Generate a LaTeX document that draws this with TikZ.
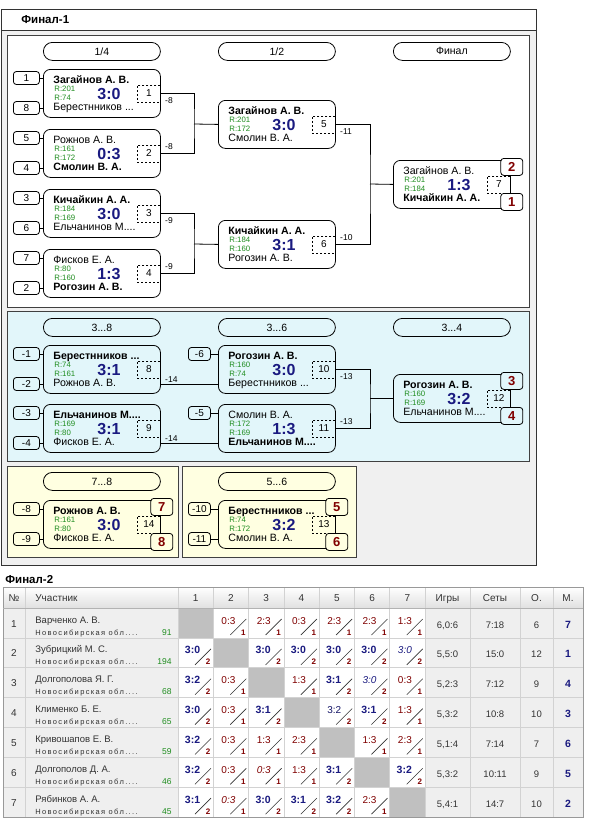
\documentclass[tikz,border=0pt]{standalone}
\usepackage{fontspec}
\setmainfont{Liberation Sans}
\newfontfamily\regf[LetterSpace=18]{Liberation Sans}
\usetikzlibrary{calc}
\definecolor{navy}{HTML}{1A1A80}
\definecolor{dred}{HTML}{800000}
\definecolor{rgreen}{HTML}{1E8C1E}
\definecolor{cyanp}{HTML}{E2F6FA}
\definecolor{yelp}{HTML}{FFFFE1}
\definecolor{framebg}{HTML}{F0F0F0}
\definecolor{gridc}{HTML}{D2D2D2}
\definecolor{diagc}{HTML}{C0C0C0}
\definecolor{cellbg}{HTML}{EFEFEF}
\definecolor{txtc}{HTML}{333333}
\tikzset{
  panel/.style={draw=black!75, anchor=north west, inner sep=0pt},
  mbox/.style={draw, rounded corners=7pt, minimum width=117pt, minimum height=48pt, inner sep=0pt, anchor=north west},
  pill/.style={draw, rounded corners=9pt, minimum width=117pt, minimum height=18pt, inner sep=0pt, anchor=north west, font=\fontsize{10.5}{12}\selectfont},
  seedb/.style={draw, rounded corners=3pt, minimum width=26pt, minimum height=13pt, inner sep=0pt, anchor=west, font=\fontsize{10}{12}\selectfont},
  seedc/.style={seedb, minimum width=22pt},
  nmtxt/.style={anchor=base west, inner sep=0pt, font=\fontsize{10.6}{12}\selectfont},
  rtxt/.style={anchor=base west, inner sep=0pt, font=\fontsize{7.8}{9}\selectfont, text=rgreen},
  sctxt/.style={anchor=base, inner sep=0pt, font=\bfseries\fontsize{16}{18}\selectfont, text=navy},
  nobox/.style={draw, dash pattern=on 2pt off 2pt, minimum width=23pt, minimum height=17pt, inner sep=0pt, anchor=east, font=\fontsize{10}{12}\selectfont},
  plbox/.style={draw, rounded corners=3pt, minimum width=22pt, minimum height=17pt, inner sep=0pt, font=\bfseries\fontsize{13}{15}\selectfont, text=dred},
  lbl/.style={inner sep=0pt, font=\fontsize{8.5}{10}\selectfont},
  sw/.style={anchor=base east, inner sep=0pt, font=\bfseries\fontsize{10.5}{12}\selectfont, text=navy},
  sl/.style={anchor=base east, inner sep=0pt, font=\fontsize{10}{12}\selectfont, text=dred},
  swi/.style={anchor=base east, inner sep=0pt, font=\itshape\fontsize{10}{12}\selectfont, text=navy},
  sli/.style={anchor=base east, inner sep=0pt, font=\itshape\fontsize{10}{12}\selectfont, text=dred},
  swn/.style={anchor=base east, inner sep=0pt, font=\fontsize{10}{12}\selectfont, text=navy!80!black},
  subn/.style={anchor=base, inner sep=0pt, font=\bfseries\fontsize{8}{9}\selectfont, text=dred},
  slash/.style={line width=0.6pt, black!80},
  hd/.style={anchor=base, inner sep=0pt, font=\fontsize{10}{12}\selectfont, text=txtc},
}
\newcommand\MB[9]{%
  \node[mbox] (#1) at (#2,#3) {};
  \node[nmtxt] (#1-a) at ($(#1.north west)+(10,14)$) {#4};
  \node[rtxt] (#1-r) at ($(#1.north west)+(11,22.5)$) {R:#5};
  \node[rtxt] (#1-s) at ($(#1.north west)+(11,31.5)$) {R:#6};
  \node[nmtxt] (#1-b) at ($(#1.north west)+(10,41.5)$) {#7};
  \node[sctxt] (#1-c) at ($(#1.north west)+(66,30)$) {#8};
  \node[nobox] (#1-d) at (#1.east) {#9};
}
\newcommand\SC[5]{%
  \pgfmathsetmacro\cxx{178+35.29*(#2-1)}%
  \pgfmathsetmacro\ryy{608+29.86*(#1-1)}%
  \node[#4] (sc-#1-#2) at (\cxx+22.5,\ryy+16) {#3};%
  \node[subn] (sb-#1-#2) at (\cxx+30,\ryy+27) {#5};%
  \draw[slash] (\cxx+17,\ryy+27) -- (\cxx+33,\ryy+11);%
}
\begin{document}
\begin{tikzpicture}[x=1pt,y=-1pt,line width=0.8pt]
\useasboundingbox (0,0) rectangle (597,823);
\fill[white] (0,0) rectangle (597,823);
% ===== Final-1 frame
\node[draw=black!80, fill=framebg, minimum width=535pt, minimum height=556pt, inner sep=0pt, anchor=north west] (frm) at (1,9) {};
\fill[white] (1.5,9.5) rectangle (535.5,30);
\draw[black!80] (1,30) -- (536,30);
\node[anchor=base west, inner sep=0pt, font=\bfseries\fontsize{11.5}{13}\selectfont] (t1) at (21,23) {Финал-1};
% panels
\node[panel, fill=white, minimum width=522pt, minimum height=272pt] (pa) at (7,35) {};
\node[panel, fill=cyanp, minimum width=522pt, minimum height=150pt] (pb) at (7,311) {};
\node[panel, fill=yelp, minimum width=171pt, minimum height=91pt] (pc) at (7,466) {};
\node[panel, fill=yelp, minimum width=174pt, minimum height=91pt] (pd) at (182,466) {};
% pills
\node[pill] (h1) at (43,42) {1/4};
\node[pill] (h2) at (218,42) {1/2};
\node[pill] (h3) at (393,42) {Финал};
\node[pill] (h4) at (43,318) {3...8};
\node[pill] (h5) at (218,318) {3...6};
\node[pill] (h6) at (393,318) {3...4};
\node[pill] (h7) at (43,472) {7...8};
\node[pill] (h8) at (218,472) {5...6};
% ===== panel 1 matches
\MB{m1}{43}{69}{\textbf{Загайнов А. В.}}{201}{74}{Берестнников ...}{3:0}{1}
\MB{m2}{43}{129}{Рожнов А. В.}{161}{172}{\textbf{Смолин В. А.}}{0:3}{2}
\MB{m3}{43}{189}{\textbf{Кичайкин А. А.}}{184}{169}{Ельчанинов М....}{3:0}{3}
\MB{m4}{43}{249}{Фисков Е. А.}{80}{160}{\textbf{Рогозин А. В.}}{1:3}{4}
\MB{m5}{218}{100}{\textbf{Загайнов А. В.}}{201}{172}{Смолин В. А.}{3:0}{5}
\MB{m6}{218}{220}{\textbf{Кичайкин А. А.}}{184}{160}{Рогозин А. В.}{3:1}{6}
\MB{m7}{393}{160}{Загайнов А. В.}{201}{184}{\textbf{Кичайкин А. А.}}{1:3}{7}
% seeds panel 1
\node[seedb] (s1) at (13,78) {1};
\node[seedb] (s8) at (13,108) {8};
\node[seedb] (s5) at (13,138) {5};
\node[seedb] (s4) at (13,168) {4};
\node[seedb] (s3) at (13,198) {3};
\node[seedb] (s6) at (13,228) {6};
\node[seedb] (s7) at (13,258) {7};
\node[seedb] (s2) at (13,288) {2};
\foreach \a in {s1,s8,s5,s4,s3,s6,s7,s2} \draw (\a.east) -- (\a.east -| m1.west);
% brackets panel 1
\coordinate (j1) at (194,124);
\coordinate (j2) at (194,244);
\coordinate (j3) at (370,184);
\draw (m1.east) -| (j1) |- (m2.east);
\draw (j1) -- (m5.west);
\draw (m3.east) -| (j2) |- (m4.east);
\draw (j2) -- (m6.west);
\draw (m5.east) -| (j3) |- (m6.east);
\draw (j3) -- (m7.west);
\node[lbl, anchor=north west] (l1) at ($(m1.east)+(4,4)$) {-8};
\node[lbl, anchor=south west] (l2) at ($(m2.east)+(4,-3)$) {-8};
\node[lbl, anchor=north west] (l3) at ($(m3.east)+(4,4)$) {-9};
\node[lbl, anchor=south west] (l4) at ($(m4.east)+(4,-3)$) {-9};
\node[lbl, anchor=north west] (l5) at ($(m5.east)+(4,4)$) {-11};
\node[lbl, anchor=south west] (l6) at ($(m6.east)+(4,-3)$) {-10};
% places final
\node[plbox, fill=white, anchor=north] (pl2) at ($(m7.north east)+(1,-2)$) {2};
\node[plbox, fill=white, anchor=south] (pl1) at ($(m7.south east)+(1,2)$) {1};
% ===== panel 2
\MB{m8}{43}{345}{\textbf{Берестнников ...}}{74}{161}{Рожнов А. В.}{3:1}{8}
\MB{m9}{43}{404}{\textbf{Ельчанинов М....}}{169}{80}{Фисков Е. А.}{3:1}{9}
\MB{m10}{218}{345}{\textbf{Рогозин А. В.}}{160}{74}{Берестнников ...}{3:0}{10}
\MB{m11}{218}{404}{Смолин В. А.}{172}{169}{\textbf{Ельчанинов М....}}{1:3}{11}
\MB{m12}{393}{374}{\textbf{Рогозин А. В.}}{160}{169}{Ельчанинов М....}{3:2}{12}
\node[seedb] (sm1) at (13,354) {-1};
\node[seedb] (sm2) at (13,384) {-2};
\node[seedb] (sm3) at (13,413) {-3};
\node[seedb] (sm4) at (13,443) {-4};
\foreach \a in {sm1,sm2,sm3,sm4} \draw (\a.east) -- (\a.east -| m8.west);
\node[seedc] (sm6) at (188,354) {-6};
\node[seedc] (sm5) at (188,413) {-5};
\foreach \a in {sm6,sm5} \draw (\a.east) -- (\a.east -| m10.west);
\coordinate (o8) at ($(m8.south east)+(0,-9)$);
\coordinate (o9) at ($(m9.south east)+(0,-9)$);
\draw (o8) -- (o8 -| m10.west);
\draw (o9) -- (o9 -| m11.west);
\node[lbl, anchor=south west] (l8) at ($(o8)+(4,-2)$) {-14};
\node[lbl, anchor=south west] (l9) at ($(o9)+(4,-2)$) {-14};
\coordinate (j4) at (370,398.5);
\draw (m10.east) -| (j4) |- (m11.east);
\draw (j4) -- (m12.west);
\node[lbl, anchor=north west] (l10) at ($(m10.east)+(4,4)$) {-13};
\node[lbl, anchor=south west] (l11) at ($(m11.east)+(4,-3)$) {-13};
\node[plbox, fill=cyanp, anchor=north] (pl3) at ($(m12.north east)+(1,-2)$) {3};
\node[plbox, fill=cyanp, anchor=south] (pl4) at ($(m12.south east)+(1,2)$) {4};
% ===== panel 3 / 4
\MB{m14}{43}{500}{\textbf{Рожнов А. В.}}{161}{80}{Фисков Е. А.}{3:0}{14}
\MB{m13}{218}{500}{\textbf{Берестнников ...}}{74}{172}{Смолин В. А.}{3:2}{13}
\node[seedb] (sm8) at (13,509) {-8};
\node[seedb] (sm9) at (13,539) {-9};
\foreach \a in {sm8,sm9} \draw (\a.east) -- (\a.east -| m14.west);
\node[seedc] (sm10) at (188,509) {-10};
\node[seedc] (sm11) at (188,539) {-11};
\foreach \a in {sm10,sm11} \draw (\a.east) -- (\a.east -| m13.west);
\node[plbox, fill=yelp, anchor=north] (pl7) at ($(m14.north east)+(1,-2)$) {7};
\node[plbox, fill=yelp, anchor=south] (pl8) at ($(m14.south east)+(1,2)$) {8};
\node[plbox, fill=yelp, anchor=north] (pl5) at ($(m13.north east)+(1,-2)$) {5};
\node[plbox, fill=yelp, anchor=south] (pl6) at ($(m13.south east)+(1,2)$) {6};
% ===== Final-2 table
\node[anchor=base west, inner sep=0pt, font=\bfseries\fontsize{11.5}{13}\selectfont] (t2) at (5,583) {Финал-2};
\shade[top color=white, bottom color=black!12] (3,587) rectangle (583,608);
\fill[cellbg] (3,608) rectangle (178,817);
\fill[white] (178,608) rectangle (425,817);
\fill[cellbg] (425,608) rectangle (583,817);
\foreach \k in {1,...,7} \fill[diagc] ({178+35.29*(\k-1)},{608+29.86*(\k-1)}) rectangle ++(35.29,29.86);
\begin{scope}[line width=0.6pt, gridc]
\foreach \k in {0,...,7} \draw (3,{608+29.86*\k}) -- (583,{608+29.86*\k});
\foreach \xx in {25,178,213.29,248.58,283.87,319.16,354.45,389.74,425,470,520,553} \draw (\xx,587) -- (\xx,817);
\end{scope}
\draw[line width=0.6pt, black!40] (3,587) rectangle (583,817);
\draw[line width=0.6pt, black!30] (3,608) -- (583,608);
% header text
\node[hd] (hn) at (14,601) {№};
\node[hd, anchor=base west] (hp) at (35,601) {Участник};
\foreach \k in {1,...,7} \node[hd] (hc\k) at ({178+35.29*(\k-0.5)},601) {\k};
\node[hd] (hg) at (447.5,601) {Игры};
\node[hd] (hs) at (495,601) {Сеты};
\node[hd] (ho) at (536.5,601) {О.};
\node[hd] (hm) at (568,601) {М.};
% rows
\foreach \xa/\xb/\xc/\xd/\xe/\xf/\xg in {
  1/Варченко А. В./91/{6,0:6}/7:18/6/7,
  2/Зубрицкий М. С./194/{5,5:0}/15:0/12/1,
  3/Долгополова Я. Г./68/{5,2:3}/7:12/9/4,
  4/Клименко Б. Е./65/{5,3:2}/10:8/10/3,
  5/Кривошапов Е. В./59/{5,1:4}/7:14/7/6,
  6/Долгополов Д. А./46/{5,3:2}/10:11/9/5,
  7/Рябинков А. А./45/{5,4:1}/14:7/10/2}{
  \pgfmathsetmacro\ry{608+29.86*(\xa-1)}
  \node[hd] (rn\xa) at (14,\ry+19) {\xa};
  \node[anchor=base west, inner sep=0pt, font=\fontsize{9.5}{11}\selectfont, text=txtc] (rp\xa) at (35,\ry+15) {\xb};
  \node[anchor=base west, inner sep=0pt, font=\regf\fontsize{7.5}{9}\selectfont, text=txtc] (rr\xa) at (35,\ry+27) {Новосибирская обл....};
  \node[anchor=base east, inner sep=0pt, font=\fontsize{8.5}{10}\selectfont, text=rgreen] (rt\xa) at (172,\ry+27) {\xc};
  \node[hd, font=\fontsize{9.5}{11}\selectfont] (rg\xa) at (447.5,\ry+20) {\xd};
  \node[hd, font=\fontsize{9.5}{11}\selectfont] (rs\xa) at (495,\ry+20) {\xe};
  \node[hd, font=\fontsize{9.5}{11}\selectfont] (ro\xa) at (536.5,\ry+20) {\xf};
  \node[hd, font=\bfseries\fontsize{10.5}{12}\selectfont, text=navy] (rm\xa) at (568,\ry+20) {\xg};
}
% score cells
\SC{1}{2}{0:3}{sl}{1}\SC{1}{3}{2:3}{sl}{1}\SC{1}{4}{0:3}{sl}{1}\SC{1}{5}{2:3}{sl}{1}\SC{1}{6}{2:3}{sl}{1}\SC{1}{7}{1:3}{sl}{1}
\SC{2}{1}{3:0}{sw}{2}\SC{2}{3}{3:0}{sw}{2}\SC{2}{4}{3:0}{sw}{2}\SC{2}{5}{3:0}{sw}{2}\SC{2}{6}{3:0}{sw}{2}\SC{2}{7}{3:0}{swi}{2}
\SC{3}{1}{3:2}{sw}{2}\SC{3}{2}{0:3}{sl}{1}\SC{3}{4}{1:3}{sl}{1}\SC{3}{5}{3:1}{sw}{2}\SC{3}{6}{3:0}{swi}{2}\SC{3}{7}{0:3}{sl}{1}
\SC{4}{1}{3:0}{sw}{2}\SC{4}{2}{0:3}{sl}{1}\SC{4}{3}{3:1}{sw}{2}\SC{4}{5}{3:2}{swn}{2}\SC{4}{6}{3:1}{sw}{2}\SC{4}{7}{1:3}{sl}{1}
\SC{5}{1}{3:2}{sw}{2}\SC{5}{2}{0:3}{sl}{1}\SC{5}{3}{1:3}{sl}{1}\SC{5}{4}{2:3}{sl}{1}\SC{5}{6}{1:3}{sl}{1}\SC{5}{7}{2:3}{sl}{1}
\SC{6}{1}{3:2}{sw}{2}\SC{6}{2}{0:3}{sl}{1}\SC{6}{3}{0:3}{sli}{1}\SC{6}{4}{1:3}{sl}{1}\SC{6}{5}{3:1}{sw}{2}\SC{6}{7}{3:2}{sw}{2}
\SC{7}{1}{3:1}{sw}{2}\SC{7}{2}{0:3}{sli}{1}\SC{7}{3}{3:0}{sw}{2}\SC{7}{4}{3:1}{sw}{2}\SC{7}{5}{3:2}{sw}{2}\SC{7}{6}{2:3}{sl}{1}
\end{tikzpicture}
\end{document}
